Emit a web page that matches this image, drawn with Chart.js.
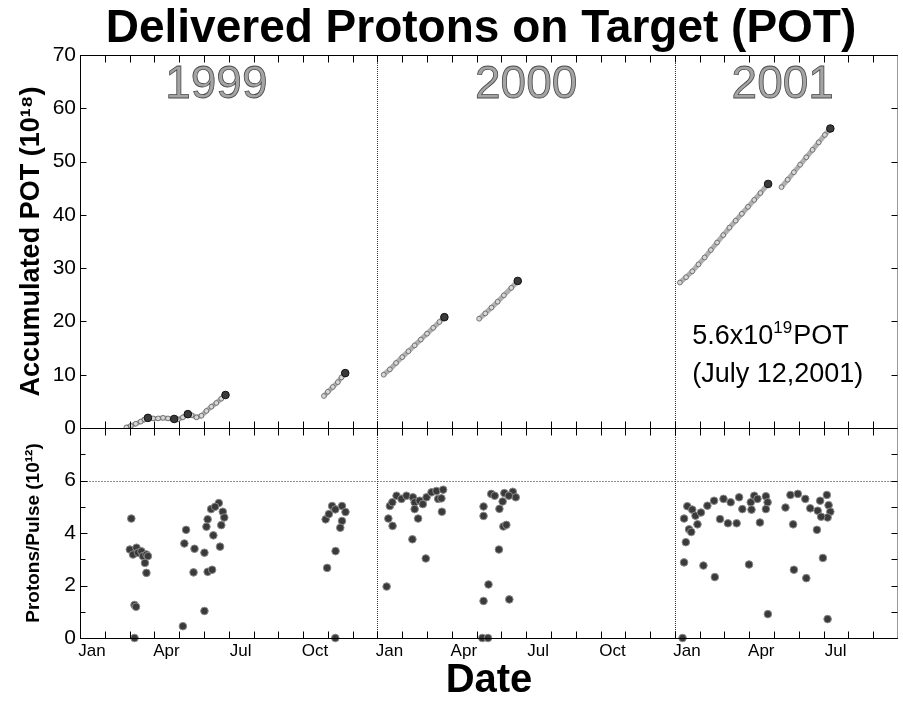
<!DOCTYPE html>
<html>
<head>
<meta charset="utf-8">
<script src="https://cdn.jsdelivr.net/npm/chart.js@4.4.1/dist/chart.umd.min.js"></script>
<style>
  html, body { margin: 0; padding: 0; background: #fff; }
</style>
</head>
<body>
<canvas id="potChart" width="903" height="701"></canvas>
<script>
// x values are months counted from Jan 1 1999
var monthNames = ['Jan', 'Apr', 'Jul', 'Oct'];
var yearLabels = ['1999', '2000', '2001'];
var yearLabelAt = [5.5, 18.0, 28.35];

// accumulated POT (10^18), null = gap between running periods
var potMonths = [1.87, 2.05, 2.25, 2.45, 2.6, 2.74, 2.95, 3.15, 3.35, 3.55, 3.8, 3.95, 4.15, 4.35, 4.5, 4.7, 4.9, 5.1, 5.3, 5.5, 5.7, 5.87, null,
  9.84, 10.0, 10.2, 10.4, 10.55, 10.7, null,
  12.25, 12.5, 12.75, 13.0, 13.25, 13.5, 13.75, 14.0, 14.25, 14.5, 14.7, null,
  16.1, 16.35, 16.6, 16.85, 17.1, 17.4, 17.66, null,
  24.2, 24.45, 24.7, 24.95, 25.2, 25.45, 25.7, 25.95, 26.2, 26.45, 26.7, 26.95, 27.2, 27.45, 27.76, null,
  28.3, 28.55, 28.8, 29.05, 29.3, 29.55, 29.8, 30.05, 30.27];
var potValues = [0.1, 0.4, 0.8, 1.2, 1.6, 1.9, 1.8, 1.8, 1.9, 1.8, 1.7, 1.6, 2.0, 2.6, 2.4, 2.0, 2.3, 3.2, 4.0, 4.7, 5.5, 6.2, null,
  6.0, 6.8, 7.7, 8.6, 9.5, 10.3, null,
  10.0, 11.0, 12.2, 13.3, 14.4, 15.5, 16.6, 17.7, 18.8, 19.9, 20.8, null,
  20.5, 21.5, 22.6, 23.7, 24.9, 26.3, 27.6, null,
  27.3, 28.3, 29.4, 30.7, 32.0, 33.4, 34.8, 36.2, 37.6, 38.9, 40.2, 41.5, 42.8, 44.1, 45.8, null,
  45.2, 46.6, 48.0, 49.4, 50.8, 52.2, 53.6, 55.0, 56.2];

// dark markers on the accumulated curve
var markMonths = [2.74, 3.8, 4.35, 5.87, 10.7, 14.7, 17.66, 27.76, 30.27];
var markValues = [1.9, 1.7, 2.6, 6.2, 10.3, 20.8, 27.6, 45.8, 56.2];

// protons per pulse (10^12)
var ppMonths = [2.07, 2.01, 2.14, 2.28, 2.34, 2.48, 2.54, 2.68, 2.74, 2.62, 2.68, 2.20, 2.26, 2.20,
  4.28, 4.21, 4.62, 5.02, 4.58, 5.15, 5.33, 5.02, 4.15, 5.38, 5.65, 5.60, 5.29, 5.45, 5.15, 5.10, 5.76, 5.82, 5.70,
  9.91, 10.04, 10.17, 10.30, 10.57, 10.71, 10.57, 10.50, 10.31, 9.97, 10.30,
  12.37, 12.44, 12.61, 12.50, 12.60, 12.77, 12.97, 13.17, 13.43, 13.50, 13.70, 13.83, 13.98, 14.18, 14.38, 14.65, 14.45, 14.58,
  13.50, 13.64, 13.41, 13.95, 14.60,
  16.28, 16.28, 16.59, 16.73, 17.12, 17.46, 17.58, 17.30, 17.05, 16.92, 17.08, 17.20, 16.90, 16.48, 16.28, 17.32, 16.23, 16.46,
  24.31, 24.37, 24.44, 24.57, 24.66, 24.91, 24.37, 24.50, 24.70, 24.83, 25.15, 25.61, 25.82, 26.14, 26.49, 26.99, 27.43, 27.75,
  25.05, 25.31, 25.58, 25.96, 26.25, 26.59, 26.72, 27.06, 27.20, 27.67, 27.74, 27.67, 27.09, 27.33,
  28.46, 28.66, 28.96, 29.26, 29.46, 29.76, 29.86, 30.13, 30.20, 30.27, 30.16, 29.90, 28.77, 29.73, 29.97, 28.80, 29.30, 30.16];
var ppValues = [4.55, 3.37, 3.18, 3.44, 3.25, 3.30, 3.12, 3.18, 3.12, 2.86, 2.48, 1.26, 1.19, 0.0,
  4.12, 3.60, 3.40, 3.25, 2.50, 2.52, 2.60, 1.03, 0.45, 3.91, 3.48, 5.14, 4.91, 5.00, 4.52, 4.24, 4.81, 4.59, 4.30,
  4.52, 4.72, 5.03, 4.90, 5.03, 4.80, 4.46, 4.20, 3.31, 2.67, 0.0,
  1.96, 4.55, 4.27, 5.03, 5.17, 5.42, 5.30, 5.42, 5.36, 5.17, 5.23, 5.10, 5.36, 5.55, 5.60, 5.65, 5.30, 5.32,
  4.91, 4.55, 3.76, 3.03, 4.81,
  5.01, 4.65, 5.49, 5.42, 5.52, 5.57, 5.36, 5.42, 5.20, 4.92, 4.25, 4.31, 3.37, 2.04, 1.41, 1.47, 0.0, 0.0,
  0.0, 2.88, 3.65, 4.14, 4.04, 4.33, 4.55, 5.02, 4.89, 4.66, 2.76, 2.32, 4.53, 4.37, 4.37, 2.80, 4.40, 0.91,
  4.78, 5.04, 5.23, 5.30, 5.17, 5.36, 4.91, 5.17, 5.42, 5.40, 5.17, 4.91, 4.89, 5.30,
  4.97, 5.45, 5.49, 5.30, 4.94, 4.85, 5.23, 5.45, 5.06, 4.81, 4.59, 4.62, 4.33, 4.12, 3.05, 2.60, 2.28, 0.72];

var FONT = "'Liberation Sans', Helvetica, Arial, sans-serif";

function pairs(xs, ys) {
    return xs.map(function (x, i) { return { x: x, y: ys[i] }; });
}

// frame, inward ticks, guide lines and the free texts
var panelDecor = {
    id: 'panelDecor',
    beforeDatasetsDraw: function (chart) {
        var ctx = chart.ctx, x = chart.scales.x, yt = chart.scales.yTop, yb = chart.scales.yBot;
        ctx.save();
        ctx.lineWidth = 1;
        // 6e12 guide
        ctx.strokeStyle = '#8c8c8c';
        ctx.setLineDash([2, 1]);
        var y6 = Math.round(yb.getPixelForValue(6)) + 0.5;
        ctx.beginPath(); ctx.moveTo(x.left, y6); ctx.lineTo(x.right, y6); ctx.stroke();
        // year separators
        ctx.strokeStyle = '#333';
        ctx.setLineDash([1, 1]);
        [12, 24].forEach(function (m) {
            var px = Math.round(x.getPixelForValue(m)) + 0.5;
            ctx.beginPath(); ctx.moveTo(px, yt.top); ctx.lineTo(px, yb.bottom); ctx.stroke();
        });
        ctx.restore();
    },
    afterDatasetsDraw: function (chart) {
        var ctx = chart.ctx, x = chart.scales.x, yt = chart.scales.yTop, yb = chart.scales.yBot;
        var L = Math.round(x.left) + 0.5, R = Math.round(x.right) - 0.5;
        ctx.save();
        ctx.lineWidth = 1;
        ctx.strokeStyle = '#000';
        function seg(x1, y1, x2, y2) { ctx.beginPath(); ctx.moveTo(x1, y1); ctx.lineTo(x2, y2); ctx.stroke(); }
        var edges = [Math.round(yt.top) + 0.5, Math.round(yt.bottom) + 0.5, Math.round(yb.bottom) + 0.5];
        // month ticks
        for (var m = 1; m < 33; m++) {
            var px = Math.round(x.getPixelForValue(m)) + 0.5;
            seg(px, edges[0], px, edges[0] + 7);
            seg(px, edges[1] - 7, px, edges[1] + 7);
            seg(px, edges[2] - 7, px, edges[2]);
        }
        // value ticks, top panel
        for (var v = 10; v < 70; v += 10) {
            var py = Math.round(yt.getPixelForValue(v)) + 0.5;
            seg(L, py, L + 6, py);
            seg(R - 6, py, R, py);
        }
        // value ticks, bottom panel
        for (var w = 1; w < 8; w++) {
            var qy = Math.round(yb.getPixelForValue(w)) + 0.5;
            seg(L, qy, L + (w % 2 === 0 ? 7 : 5), qy);
            seg(R - 6, qy, R, qy);
        }
        // frame
        edges.forEach(function (e) { seg(L - 0.5, e, R + 0.5, e); });
        seg(L, edges[0], L, edges[2]);
        ctx.setLineDash([1, 1]);
        ctx.strokeStyle = '#333';
        seg(R, edges[0], R, edges[2]);
        ctx.restore();
    },
    afterDraw: function (chart) {
        var ctx = chart.ctx, x = chart.scales.x, yt = chart.scales.yTop;
        ctx.save();
        // main title
        ctx.fillStyle = '#000';
        ctx.textAlign = 'center';
        ctx.textBaseline = 'alphabetic';
        ctx.font = 'bold 46px ' + FONT;
        ctx.fillText('Delivered Protons on Target (POT)', 481, 42);
        // year labels
        ctx.font = '46px ' + FONT;
        ctx.fillStyle = '#a4a4a4';
        ctx.strokeStyle = '#4a4a4a';
        ctx.lineWidth = 0.8;
        yearLabels.forEach(function (t, i) {
            var px = x.getPixelForValue(yearLabelAt[i]);
            ctx.fillText(t, px, 98);
            ctx.strokeText(t, px, 98);
        });
        // total annotation
        ctx.fillStyle = '#000';
        ctx.textAlign = 'left';
        var ax = x.getPixelForValue(24.7);
        var b1 = yt.getPixelForValue(15.7), b2 = yt.getPixelForValue(8.7);
        ctx.font = '27px ' + FONT;
        var part = '5.6x10';
        ctx.fillText(part, ax, b1);
        var w1 = ctx.measureText(part).width;
        ctx.font = '17px ' + FONT;
        ctx.fillText('19', ax + w1, b1 - 11);
        var w2 = ctx.measureText('19').width;
        ctx.font = '27px ' + FONT;
        ctx.fillText('POT', ax + w1 + w2 + 1, b1);
        ctx.fillText('(July 12,2001)', ax, b2);
        ctx.restore();
    }
};

var ctx = document.getElementById('potChart').getContext('2d');
var potChart = new Chart(ctx, {
    type: 'scatter',
    data: {
        datasets: [{
            label: 'Run totals',
            data: pairs(markMonths, markValues),
            xAxisID: 'x',
            yAxisID: 'yTop',
            pointRadius: 3.8,
            backgroundColor: '#3a3a3a',
            borderColor: '#111',
            borderWidth: 1
        }, {
            label: 'Accumulated POT',
            data: pairs(potMonths, potValues),
            xAxisID: 'x',
            yAxisID: 'yTop',
            showLine: true,
            spanGaps: false,
            borderColor: '#b0b0b0',
            borderWidth: 5,
            pointRadius: 2.4,
            backgroundColor: '#d6d6d6',
            pointBorderColor: '#5e5e5e',
            pointBorderWidth: 0.8
        }, {
            label: 'Protons/Pulse',
            data: pairs(ppMonths, ppValues),
            xAxisID: 'x',
            yAxisID: 'yBot',
            pointRadius: 3.8,
            backgroundColor: '#3a3a3a',
            borderColor: '#8a8a8a',
            borderWidth: 1,
            clip: 8
        }]
    },
    options: {
        responsive: false,
        animation: false,
        devicePixelRatio: 1,
        layout: { padding: { top: 55, right: 4, left: 0, bottom: 0 } },
        plugins: {
            legend: { display: false },
            tooltip: { enabled: false },
            title: { display: false }
        },
        scales: {
            x: {
                type: 'linear',
                position: 'bottom',
                min: 0,
                max: 33,
                grid: { display: false, drawTicks: false },
                border: { display: false },
                ticks: {
                    stepSize: 1,
                    autoSkip: false,
                    maxRotation: 0,
                    labelOffset: 12,
                    padding: 3,
                    color: '#000',
                    font: { family: FONT, size: 17 },
                    callback: function (v) {
                        var m = v % 12;
                        return (m % 3 === 0 && v < 33) ? monthNames[m / 3] : '';
                    }
                },
                title: {
                    display: true,
                    text: 'Date',
                    color: '#000',
                    font: { family: FONT, size: 40, weight: 'bold', lineHeight: 1 },
                    padding: { top: 0, bottom: 0 }
                },
                afterFit: function (s) { s.height = 63; }
            },
            yBot: {
                type: 'linear',
                position: 'left',
                stack: 'panels',
                stackWeight: 210,
                min: 0,
                max: 8,
                grid: { display: false, drawTicks: false },
                border: { display: false },
                ticks: {
                    stepSize: 1,
                    padding: 4,
                    color: '#000',
                    font: { family: FONT, size: 21 },
                    callback: function (v) { return (v % 2 === 0 && v < 8) ? v : ''; }
                },
                title: {
                    display: true,
                    text: 'Protons/Pulse (10¹²)',
                    color: '#000',
                    font: { family: FONT, size: 19, weight: 'bold' },
                    padding: { top: 22, bottom: 0 }
                },
                afterFit: function (s) { s.width = 80; }
            },
            yTop: {
                type: 'linear',
                position: 'left',
                stack: 'panels',
                stackWeight: 373,
                min: 0,
                max: 70,
                grid: { display: false, drawTicks: false },
                border: { display: false },
                ticks: {
                    stepSize: 10,
                    padding: 4,
                    color: '#000',
                    font: { family: FONT, size: 21 }
                },
                title: {
                    display: true,
                    text: 'Accumulated POT (10¹⁸)',
                    color: '#000',
                    font: { family: FONT, size: 27, weight: 'bold' },
                    padding: { top: 15, bottom: 0 }
                },
                afterFit: function (s) { s.width = 80; }
            }
        }
    },
    plugins: [panelDecor]
});
</script>
</body>
</html>
